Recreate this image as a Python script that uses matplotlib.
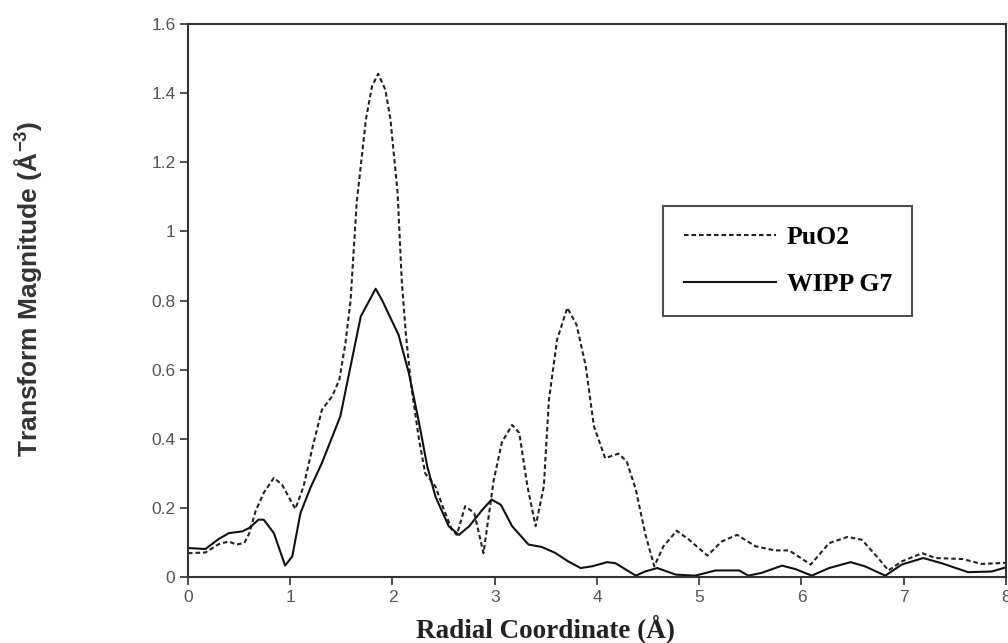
import numpy as np
import matplotlib
matplotlib.use("Agg")
import matplotlib.pyplot as plt

# radial coordinate / magnitude
puo2_r = [0, 0.17, 0.30, 0.40, 0.47, 0.55, 0.60, 0.66, 0.74, 0.84, 0.92, 1.05, 1.13, 1.22,
          1.31, 1.41, 1.48, 1.54, 1.59, 1.65, 1.74, 1.80, 1.86, 1.93, 1.98, 2.05, 2.09,
          2.13, 2.18, 2.26, 2.32, 2.42, 2.49, 2.58, 2.63, 2.71, 2.80, 2.89, 2.99, 3.07,
          3.17, 3.24, 3.32, 3.40, 3.48, 3.53, 3.61, 3.71, 3.80, 3.89, 3.97, 4.08, 4.21,
          4.29, 4.38, 4.47, 4.56, 4.65, 4.78, 4.90, 5.08, 5.22, 5.37, 5.55, 5.74, 5.88,
          6.09, 6.27, 6.45, 6.59, 6.75, 6.85, 6.98, 7.18, 7.31, 7.58, 7.76, 8.0]
puo2_mag = [0.069, 0.071, 0.095, 0.103, 0.094, 0.098, 0.127, 0.19, 0.243, 0.287, 0.267,
            0.197, 0.262, 0.378, 0.484, 0.523, 0.571, 0.677, 0.80, 1.083, 1.324, 1.42,
            1.456, 1.41, 1.324, 1.112, 0.86, 0.706, 0.56, 0.397, 0.30, 0.262, 0.205,
            0.137, 0.122, 0.205, 0.185, 0.069, 0.28, 0.39, 0.44, 0.417, 0.262, 0.147,
            0.262, 0.513, 0.687, 0.779, 0.73, 0.61, 0.436, 0.344, 0.357, 0.335, 0.253,
            0.127, 0.031, 0.089, 0.134, 0.108, 0.062, 0.103, 0.122, 0.089, 0.077, 0.077,
            0.036, 0.098, 0.116, 0.108, 0.055, 0.019, 0.045, 0.069, 0.055, 0.052, 0.038,
            0.041]

wipp_r = [0, 0.17, 0.30, 0.40, 0.53, 0.60, 0.69, 0.74, 0.84, 0.95, 1.02, 1.10, 1.20, 1.31,
          1.39, 1.49, 1.59, 1.69, 1.835, 1.90, 2.06, 2.16, 2.26, 2.34, 2.42, 2.55, 2.65,
          2.75, 2.88, 2.97, 3.06, 3.17, 3.33, 3.46, 3.59, 3.72, 3.84, 3.95, 4.10, 4.18,
          4.38, 4.47, 4.59, 4.77, 4.96, 5.16, 5.39, 5.48, 5.61, 5.81, 5.94, 6.10, 6.27,
          6.48, 6.62, 6.82, 6.98, 7.19, 7.37, 7.63, 7.86, 8.0]
wipp_mag = [0.084, 0.081, 0.11, 0.127, 0.132, 0.142, 0.166, 0.166, 0.127, 0.033, 0.06,
            0.185, 0.26, 0.33, 0.39, 0.465, 0.61, 0.754, 0.834, 0.80, 0.70, 0.59, 0.446,
            0.32, 0.233, 0.147, 0.122, 0.147, 0.195, 0.224, 0.209, 0.147, 0.094, 0.087,
            0.07, 0.045, 0.026, 0.031, 0.043, 0.04, 0.004, 0.016, 0.026, 0.007, 0.004,
            0.019, 0.019, 0.004, 0.012, 0.033, 0.023, 0.004, 0.026, 0.043, 0.031, 0.004,
            0.036, 0.055, 0.04, 0.014, 0.016, 0.028]

x_ticks = [0, 1, 2, 3, 4, 5, 6, 7, 8]
y_ticks = [0, 0.2, 0.4, 0.6, 0.8, 1.0, 1.2, 1.4, 1.6]
y_labels = ["0", "0.2", "0.4", "0.6", "0.8", "1", "1.2", "1.4", "1.6"]

fig = plt.figure(figsize=(10.08, 6.43), dpi=100)
ax = fig.add_axes([0.1865, 0.1026, 0.8115, 0.8601])

ax.plot(puo2_r, puo2_mag, color="#222222", lw=1.5, linestyle=(0, (2.2, 1.4)), label="PuO2")
ax.plot(wipp_r, wipp_mag, color="#111111", lw=1.5, label="WIPP G7")

ax.set_xlim(0, 8)
ax.set_ylim(0, 1.6)
ax.set_xticks(x_ticks)
ax.set_yticks(y_ticks)
ax.set_yticklabels(y_labels)
ax.tick_params(direction="out", length=6, width=1.2, colors="#333333",
               labelsize=12.5, labelcolor="#555555", pad=3)
for lab in ax.get_xticklabels() + ax.get_yticklabels():
    lab.set_family("Liberation Sans")

for s in ax.spines.values():
    s.set_linewidth(1.5)
    s.set_color("#333333")

fig.text(0.541, 0.009, "Radial Coordinate (Å)", fontsize=19.5, fontweight="bold",
         family="Liberation Serif", ha="center", va="baseline", color="#222222")
fig.text(0.028, 0.551, "Transform Magnitude (Å$^{\\mathregular{-3}}$)", rotation=90,
         fontsize=19, fontweight="bold", family="Liberation Sans",
         ha="center", va="center", color="#333333")

leg = ax.legend(loc="upper left", bbox_to_anchor=(0.581, 0.671), frameon=True,
                fancybox=False, handlelength=3.6, handletextpad=0.4,
                labelspacing=0.9, borderpad=0.8, borderaxespad=0,
                prop={"family": "Liberation Serif", "weight": "bold", "size": 18.5})
leg.get_frame().set_edgecolor("#222222")
leg.get_frame().set_linewidth(1.5)

fig.savefig("out.png", dpi=100)
